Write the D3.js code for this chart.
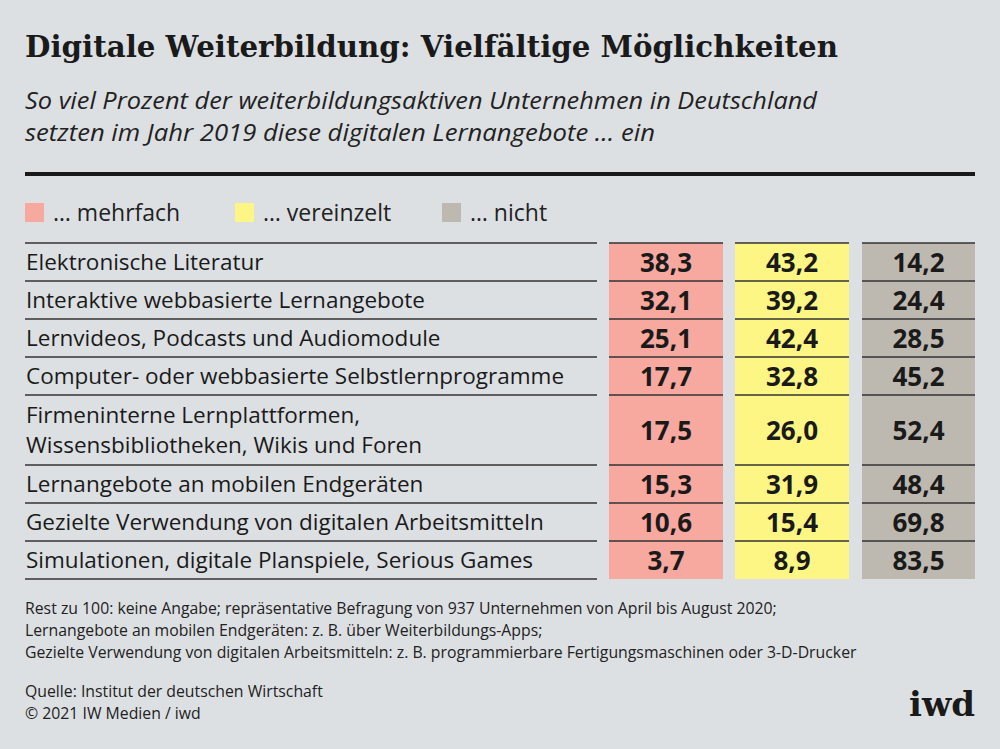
<!DOCTYPE html><html><head><meta charset="utf-8">
<script src="https://cdn.jsdelivr.net/npm/d3@7"></script>
<style>body{margin:0;background:#dde0e3}</style></head><body>
<script>
const categories=[["Elektronische Literatur"],["Interaktive webbasierte Lernangebote"],["Lernvideos, Podcasts und Audiomodule"],["Computer- oder webbasierte Selbstlernprogramme"],["Firmeninterne Lernplattformen,","Wissensbibliotheken, Wikis und Foren"],["Lernangebote an mobilen Endgeräten"],["Gezielte Verwendung von digitalen Arbeitsmitteln"],["Simulationen, digitale Planspiele, Serious Games"]];
const mehrfach=[38.3,32.1,25.1,17.7,17.5,15.3,10.6,3.7];
const vereinzelt=[43.2,39.2,42.4,32.8,26.0,31.9,15.4,8.9];
const nicht=[14.2,24.4,28.5,45.2,52.4,48.4,69.8,83.5];
const seriesNames=["… mehrfach","… vereinzelt","… nicht"];
const colors=["#f7a9a0","#fdf685","#bdb9b0"];
const W=1000,H=749;
const svg=d3.select("body").append("svg").attr("width",W).attr("height",H);
svg.append("rect").attr("width",W).attr("height",H).attr("fill","#dde0e3");
const sans="'Open Sans','Noto Sans',sans-serif";
function fit(sel,w){const n=sel.node();const l=n.getComputedTextLength();if(l>0)sel.attr("textLength",w).attr("lengthAdjust","spacingAndGlyphs");return sel;}
fit(svg.append("text").attr("x",25).attr("y",57).attr("font-family","'DejaVu Serif',serif").attr("font-weight","bold").attr("font-size",29).attr("fill","#1a1a1a").text("Digitale Weiterbildung: Vielfältige Möglichkeiten"),813);
[["So viel Prozent der weiterbildungsaktiven Unternehmen in Deutschland",792],["setzten im Jahr 2019 diese digitalen Lernangebote … ein",630]].forEach((t,i)=>
 fit(svg.append("text").attr("x",25).attr("y",109+i*32).attr("font-family",sans).attr("font-style","italic").attr("font-size",23.5).attr("fill","#222").text(t[0]),t[1]));
svg.append("rect").attr("x",25).attr("y",172).attr("width",950).attr("height",4).attr("fill","#1a1a1a");
const lx=[25,235,442];
seriesNames.forEach((s,i)=>{svg.append("rect").attr("x",lx[i]).attr("y",203).attr("width",19).attr("height",19).attr("fill",colors[i]);
 svg.append("text").attr("x",lx[i]+28).attr("y",221).attr("font-family",sans).attr("font-size",23).attr("fill","#222").text(s);});
const units=categories.map(c=>c.length===2?70:38);
let acc=243;const tops=units.map(u=>{const t=acc;acc+=u;return t;});
const y=d3.scaleLinear().domain([243,acc]).range([243,acc]);
const colX=[[609,723],[735,849],[862,975]];
const data=[mehrfach,vereinzelt,nicht];
const fmt=v=>d3.format(".1f")(v).replace(".",",");
colX.forEach((c,j)=>svg.append("rect").attr("x",c[0]).attr("y",y(243)).attr("width",c[1]-c[0]).attr("height",y(acc)-y(243)).attr("fill",colors[j]));
categories.forEach((cat,i)=>{
 const t=y(tops[i]),h=units[i],mid=t+h/2;
 [[25,597],...colX].forEach(c=>svg.append("line").attr("x1",c[0]).attr("x2",c[1]).attr("y1",t).attr("y2",t).attr("stroke","#333").attr("stroke-width",1.3));
 cat.forEach((l,k)=>svg.append("text").attr("x",26).attr("y",mid+8+(k-(cat.length-1)/2)*30).attr("font-family",sans).attr("font-size",22.5).attr("fill","#1a1a1a").text(l));
 colX.forEach((c,j)=>svg.append("text").attr("x",(c[0]+c[1])/2).attr("y",mid+10).attr("text-anchor","middle").attr("font-family",sans).attr("font-weight","bold").attr("font-size",26).attr("fill","#1a1a1a").text(fmt(data[j][i])));
});
svg.append("line").attr("x1",25).attr("x2",597).attr("y1",y(acc)).attr("y2",y(acc)).attr("stroke","#333").attr("stroke-width",1.3);
["Rest zu 100: keine Angabe; repräsentative Befragung von 937 Unternehmen von April bis August 2020;","Lernangebote an mobilen Endgeräten: z. B. über Weiterbildungs-Apps;","Gezielte Verwendung von digitalen Arbeitsmitteln: z. B. programmierbare Fertigungsmaschinen oder 3-D-Drucker"].forEach((t,i)=>
 svg.append("text").attr("x",25).attr("y",614+i*22).attr("font-family",sans).attr("font-size",15.8).attr("fill","#222").text(t));
["Quelle: Institut der deutschen Wirtschaft","© 2021 IW Medien / iwd"].forEach((t,i)=>
 svg.append("text").attr("x",25).attr("y",697+i*22).attr("font-family",sans).attr("font-size",15.8).attr("fill","#222").text(t));
svg.append("text").attr("x",975).attr("y",716).attr("text-anchor","end").attr("font-family","'DejaVu Serif',serif").attr("font-weight","bold").attr("font-size",34).attr("fill","#1a1a1a").text("iwd");
</script></body></html>
